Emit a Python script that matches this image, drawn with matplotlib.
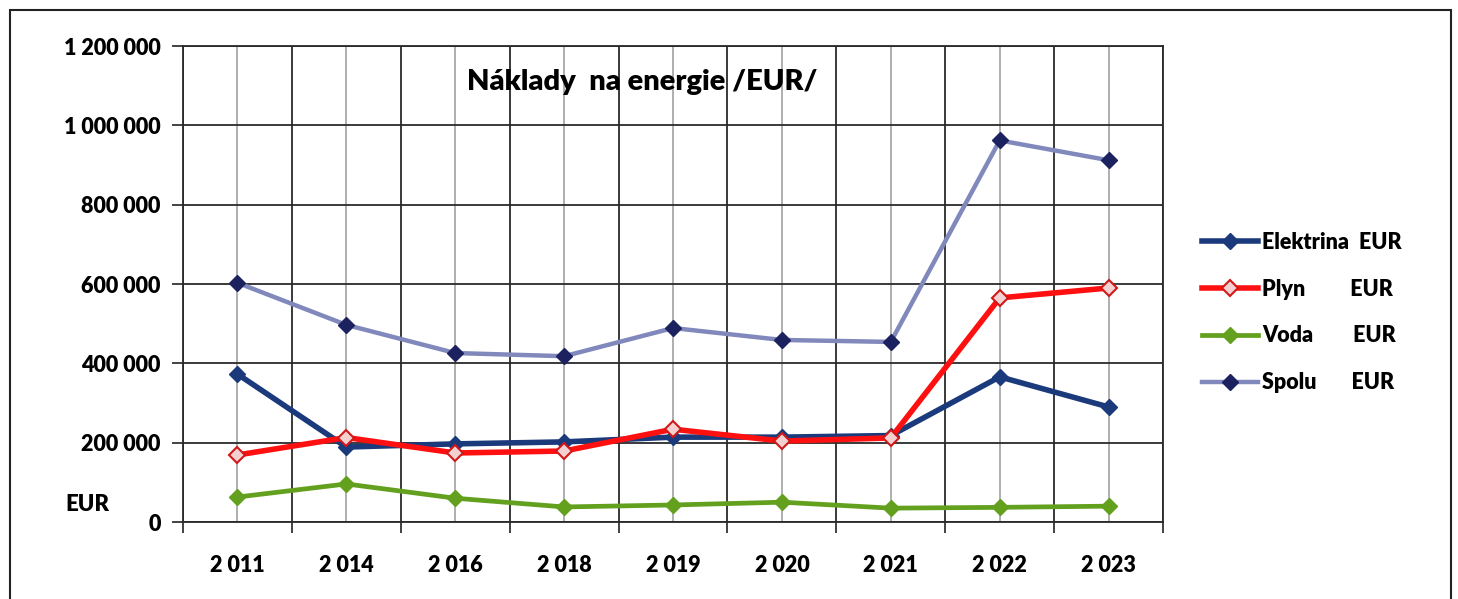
import matplotlib.pyplot as plt
import numpy as np
from matplotlib.ticker import FixedLocator, FuncFormatter

# Data
years = ["2 011", "2 014", "2 016", "2 018", "2 019", "2 020", "2 021", "2 022", "2 023"]
elektrina = [373000, 189000, 197000, 202000, 214000, 214000, 218000, 366000, 290000]
plyn = [169000, 213000, 174000, 179000, 234000, 204000, 212000, 565000, 590000]
voda = [63000, 96000, 60000, 38000, 43000, 50000, 35000, 37000, 40000]
spolu = [603000, 497000, 426000, 418000, 489000, 459000, 454000, 962000, 912000]

labels = ["Elektrina  EUR", "Plyn         EUR", "Voda        EUR", "Spolu       EUR"]

plt.rcParams["font.family"] = ["Lato", "DejaVu Sans"]
plt.rcParams["font.weight"] = "heavy"

fig = plt.figure(figsize=(14.58, 5.99), dpi=100)
ax = fig.add_axes([0.1255, 0.1285, 0.6722, 0.7947])

x = np.arange(len(years))

ax.plot(x, spolu, color="#8088bc", lw=3.2, marker="D", ms=8,
        mfc="#1c2260", mec="#1c2260", label=labels[3], zorder=3)
ax.plot(x, elektrina, color="#1b3a7c", lw=4.0, marker="D", ms=8,
        mfc="#1b3a7c", mec="#1b3a7c", label=labels[0], zorder=4)
ax.plot(x, plyn, color="#ff1010", lw=4.0, marker="D", ms=8,
        mfc="#f4d0d0", mec="#d01818", mew=1.5, label=labels[1], zorder=5)
ax.plot(x, voda, color="#62a01e", lw=3.4, marker="D", ms=8,
        mfc="#62a01e", mec="#62a01e", label=labels[2], zorder=4)

ax.set_xlim(-0.5, len(years) - 0.5)
ax.set_ylim(0, 1200000)
ax.set_yticks(np.arange(0, 1200001, 200000))
ax.yaxis.set_major_formatter(FuncFormatter(lambda v, p: f"{int(v):,}".replace(",", " ")))
ax.set_xticks(x)
ax.set_xticklabels(years)
ax.xaxis.set_minor_locator(FixedLocator(np.arange(-0.5, len(years), 1.0)))

ax.tick_params(axis="x", which="major", length=0, pad=24, labelsize=15.5)
ax.tick_params(axis="x", which="minor", length=8, width=1.2, color="#222222")
ax.tick_params(axis="y", length=8, width=1.2, color="#222222", pad=8, labelsize=15.5)

# grid: dark at category boundaries and value levels, light at category centres
ax.grid(True, axis="y", color="#2a2a2a", lw=1.3)
ax.grid(True, axis="x", which="minor", color="#2a2a2a", lw=1.3)
ax.grid(True, axis="x", which="major", color="#a8a8a8", lw=1.3)
ax.set_axisbelow(True)
for s in ax.spines.values():
    s.set_color("#2a2a2a")
    s.set_linewidth(1.3)

ax.text(0.469, 0.924, "Náklady  na energie /EUR/", transform=ax.transAxes,
        ha="center", va="center", fontsize=21)
fig.text(0.060, 0.157, "EUR", ha="center", va="center", fontsize=16)

h, l = ax.get_legend_handles_labels()
order = [1, 2, 3, 0]
ax.legend([h[i] for i in order], [l[i] for i in order],
          loc="center left", bbox_to_anchor=(1.02, 0.44), frameon=False,
          fontsize=15.5, handlelength=2.6, labelspacing=1.2, handletextpad=0.2)

# outer frame of the scanned chart
fig.add_artist(plt.Rectangle((0.007, -0.05), 0.988, 1.034, transform=fig.transFigure,
                             fill=False, ec="#222222", lw=1.5))

fig.savefig("out.png", dpi=100)
